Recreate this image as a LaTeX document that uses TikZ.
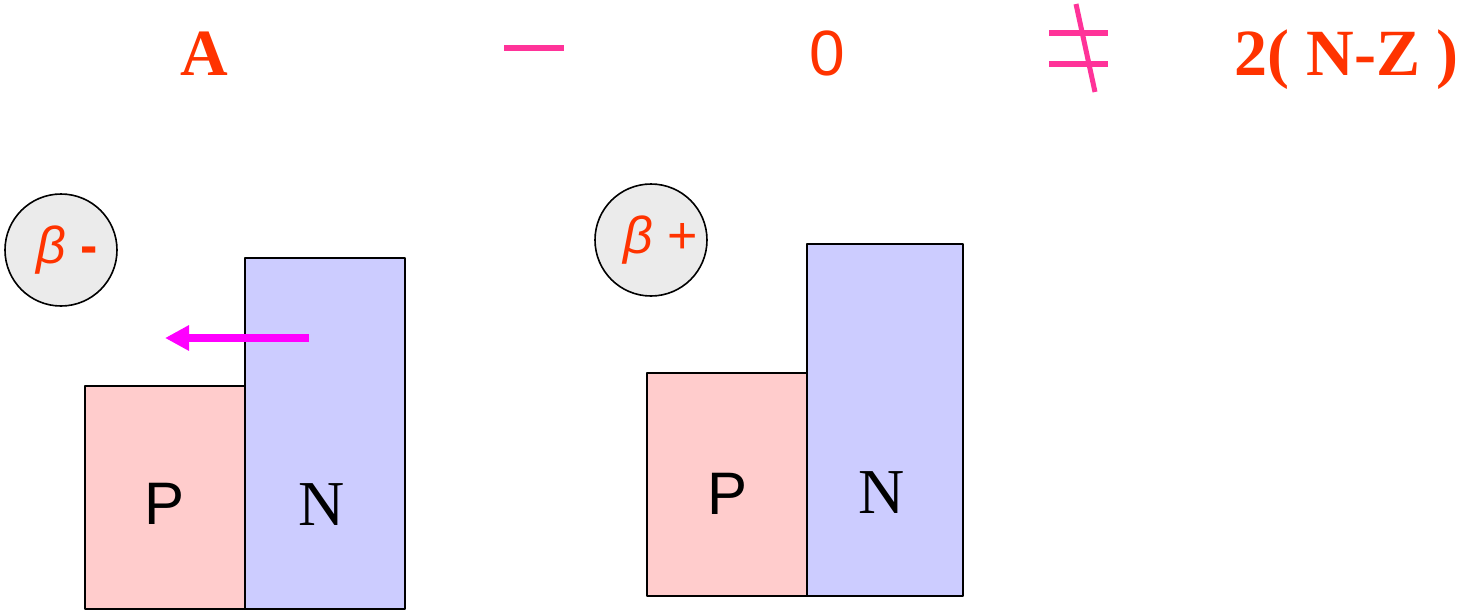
\documentclass[tikz,border=0pt]{standalone}
\usepackage{fontspec}
\setmainfont{Liberation Serif}
\setsansfont{Liberation Sans}
\usetikzlibrary{arrows.meta}
\definecolor{txtred}{HTML}{FF3300}
\definecolor{sympink}{HTML}{FF3399}
\definecolor{arrmag}{HTML}{FF00FF}
\definecolor{pfill}{HTML}{FFCCCC}
\definecolor{nfill}{HTML}{CCCCFF}
\definecolor{cfill}{HTML}{EBEBEB}
\tikzset{
  every picture/.style={line join=round, >=Stealth},
  head/.style={text=txtred, font=\fontsize{33}{33}\selectfont\bfseries, anchor=base, inner sep=0pt},
  sym/.style={draw=sympink, line width=3pt},
  pbox/.style={draw, line width=1pt, fill=pfill},
  nbox/.style={draw, line width=1pt, fill=nfill},
  decay/.style={circle, draw, line width=0.8pt, fill=cfill, minimum size=56pt, inner sep=0pt,
    text=txtred, font=\fontsize{26}{26}\selectfont\sffamily},
  plbl/.style={font=\fontsize{30}{30}\selectfont\sffamily, inner sep=0pt},
  nlbl/.style={font=\fontsize{32}{32}\selectfont, inner sep=0pt},
}

\begin{document}
\begin{tikzpicture}[x=0.5pt,y=-0.5pt]
\useasboundingbox (0,0) rectangle (1461,611);
% top line
\node[head] (mass) at (204,75) {A};
\draw[sym] (504,48) -- (564,48);
\node[head, font=\fontsize{32}{32}\selectfont\sffamily] (zero) at (827,75) {0};
\draw[sym] (1049,33) -- (1108,33);
\draw[sym] (1049,64) -- (1108,64);
\draw[sym, line width=2.5pt] (1076,4) -- (1095,92);
\node[head, anchor=base east] (excess) at (1459,75) {2( N-Z )};
% beta minus
\node[decay] (bmin) at (61,250) {\hspace{6pt}\itshape β \upshape\bfseries -};
\draw[pbox] (85,386) rectangle (245,609);
\draw[nbox] (245,258) rectangle (405,609);
\node[plbl] (pl) at (165,504) {P};
\node[nlbl] (nl) at (322,505) {N};
\coordinate (arrS) at (309,338);
\coordinate (arrE) at (165,338);
\draw[arrmag, line width=4pt, -{Triangle[length=12pt,width=12pt]}] (arrS) -- (arrE);
% beta plus
\node[decay] (bplus) at (651,240) {\hspace{10pt}\itshape β \upshape +};
\draw[pbox] (647,373) rectangle (807,596);
\draw[nbox] (807,244) rectangle (963,596);
\node[plbl] (pr) at (727,494) {P};
\node[nlbl] (nr) at (882,493) {N};
\end{tikzpicture}
\end{document}
